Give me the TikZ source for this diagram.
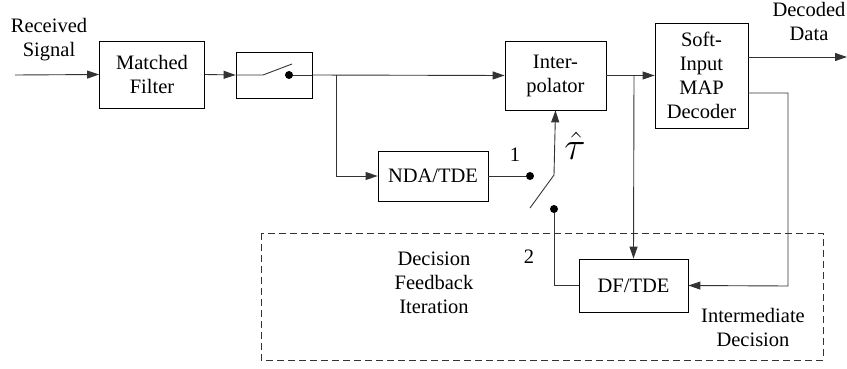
\documentclass[tikz,border=0pt]{standalone}
\usepackage{fontspec}
\setmainfont{Liberation Serif}
\usepackage{amsmath}
\usepackage{graphicx}
\usetikzlibrary{arrows.meta}
\tikzstyle{every node}=[font=\fontsize{20.5}{24}\selectfont]
\tikzstyle{block}=[draw,thick,align=center,inner sep=0pt]
\tikzstyle{wire}=[line width=0.9pt,black!80]
\tikzstyle{arr}=[wire,-{Triangle[length=12pt,width=8pt]}]
\tikzstyle{dot}=[circle,fill,inner sep=0pt,minimum size=8pt]

\begin{document}
\begin{tikzpicture}[x=1pt,y=-1pt]
\useasboundingbox (0,0) rectangle (847,369);
\node[block,minimum width=105,minimum height=67] (mf)     at (152,74.5)  {Matched\\Filter};
\node[block,minimum width=76,minimum height=46]  (sw)     at (274,75)    {};
\node[block,minimum width=101,minimum height=69] (interp) at (555.5,75.5) {Inter-\\polator};
\node[block,minimum width=93,minimum height=105] (dec)    at (701.5,75.5) {Soft-\\Input\\MAP\\Decoder};
\node[block,minimum width=110,minimum height=50] (nda)    at (433,176)   {NDA/TDE};
\node[block,minimum width=109,minimum height=53] (df)     at (633.5,285.5) {DF/TDE};
\node[dot] (d1) at (530,176) {};
\node[dot] (d2) at (554,209) {};
\node[dot] (d0) at (289,75) {};
\coordinate (in) at (15,75);
\coordinate (b1) at (336,75);
\coordinate (b2) at (634,75);
\coordinate (piv) at (554,175);
\coordinate (out) at (847,57);
\coordinate (dout) at (748,57);
\coordinate (fb) at (748,93);
\node[align=center] (rx)  at (49,40)  {Received\\Signal};
\node[align=center] (dd)  at (809,21) {Decoded\\Data};
\node[align=center] (dfi) at (434,283) {Decision\\Feedback\\Iteration};
\node[align=center] (imd) at (753,327) {Intermediate\\Decision};
\node (n1)  at (515,155) {1};
\node (n2)  at (529,257) {2};
\node[inner sep=0pt] (tau) at (575,146) {\scalebox{1.9}{$\hat{\tau}$}};
% dashed region
\draw[wire,dashed,dash pattern=on 7pt off 4pt] (261,233) rectangle (823,360);
\path[arr] (in) edge (mf.west)
           (mf.east) edge (sw.west);
% sampler
\draw[wire] (sw.west) -- (263,75) -- (292,64);
\draw[wire] (d0) -- (sw.east);
\draw[arr] (sw.east) -- (interp.west);
\draw[arr] (b1) |- (nda.west);
\draw[arr] (interp.east) -- (dec.west);
\draw[arr] (b2) -- (df.north);
\draw[arr] (dout) -- (out);
\draw[arr] (fb) -| (788,286) -- (df.east);
% timing switch
\draw[wire] (nda.east) -- (d1);
\draw[wire] (piv) -- (530,208);
\draw[arr] (piv) -- (interp.south);
\draw[wire] (d2) |- (df.west);
\end{tikzpicture}
\end{document}
